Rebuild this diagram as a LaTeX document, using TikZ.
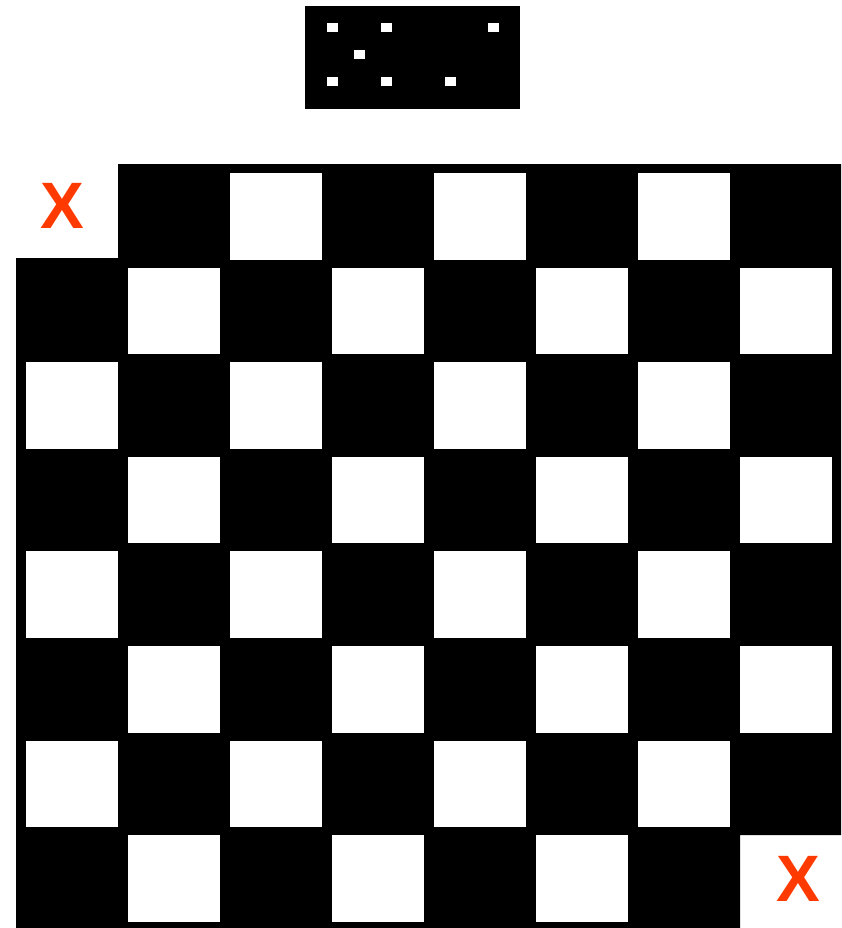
\documentclass[tikz,border=0pt]{standalone}
\usepackage{fontspec}
\setmainfont{Liberation Sans}
\usepackage{tikz}
\definecolor{crossred}{HTML}{FF3A00}

\begin{document}
\begin{tikzpicture}[x=0.03cm,y=-0.03cm,
      sq/.style={fill=white},
      pip/.style={fill=white},
      cross/.style={text=crossred,font=\bfseries\fontsize{56}{56}\selectfont,inner sep=0pt}]
    \useasboundingbox (0,0) rectangle (841,928);
    %% ── Domino ──────────────────────────────────────────────
    \fill[black] (305,6) rectangle (520,109);
    \foreach \px/\py in {332/28, 386/28, 359/55, 332/82, 386/82, 493/28, 450/82}
      \fill[pip] (\px-5.5,\py-4.5) rectangle (\px+5.5,\py+4.5);
    %% ── Board with two corners cut off ──────────────────────
    \fill[black] (118,164) -- (841,164) -- (841,835) -- (740,835) -- (740,928)
                 -- (16,928) -- (16,258) -- (118,258) -- cycle;
    \foreach \i in {0,...,7}
      \foreach \j in {0,...,7} {
        \pgfmathtruncatemacro{\cpar}{mod(\i+\j,2)}
        \pgfmathtruncatemacro{\corner}{(\i==0 && \j==0) || (\i==7 && \j==7)}
        \ifnum\cpar=0 \ifnum\corner=0
          \fill[sq] (26+102*\j,173+94.6*\i) rectangle ++(92,86.5);
        \fi\fi
      }
    %% ── Removed squares ─────────────────────────────────────
    \node[cross] (xtop) at (62,206) {X};
    \node[cross] (xbot) at (798,879) {X};
  \end{tikzpicture}
\end{document}
